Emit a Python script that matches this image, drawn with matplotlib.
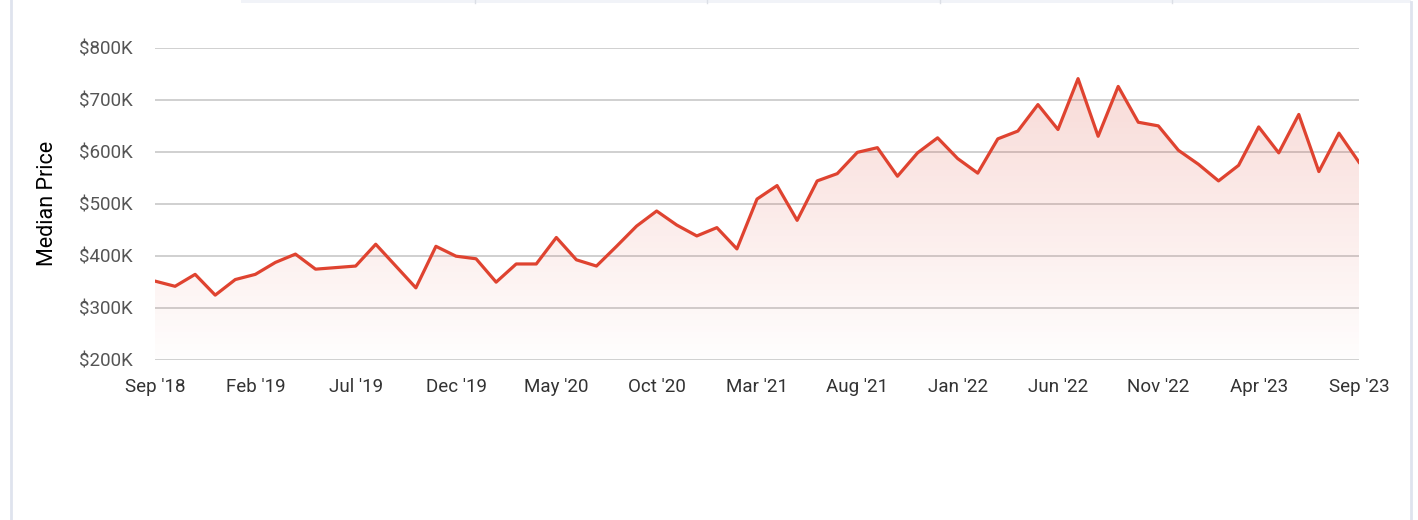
import numpy as np
import matplotlib
matplotlib.use('Agg')
import matplotlib.pyplot as plt
from matplotlib.lines import Line2D
from matplotlib.patches import Rectangle

# monthly median price, Sep 2018 .. Sep 2023 (in $K)
prices = [351, 341, 364, 324, 354, 364, 387, 403, 374, 377,
          380, 422, 380, 338, 418, 399, 394, 349, 384, 384,
          435, 392, 380, 418, 457, 486, 459, 438, 454, 413,
          509, 535, 468, 544, 558, 599, 608, 553, 598, 627,
          587, 559, 625, 640, 691, 643, 741, 630, 726, 657,
          650, 603, 576, 544, 574, 648, 598, 672, 562, 636,
          580]
tick_labels = ["Sep '18", "Feb '19", "Jul '19", "Dec '19", "May '20", "Oct '20",
               "Mar '21", "Aug '21", "Jan '22", "Jun '22", "Nov '22", "Apr '23", "Sep '23"]
y_ticks = [200, 300, 400, 500, 600, 700, 800]

plt.rcParams['font.family'] = ['Roboto', 'DejaVu Sans']

W, H = 1418, 520
fig = plt.figure(figsize=(W / 100, H / 100), dpi=100)
ax = fig.add_axes([155 / W, 1 - 359.5 / H, (1359 - 155) / W, (359.5 - 48) / H])

x = np.arange(len(prices))
y = np.array(prices)
line_col = '#df4330'

# gradient fill under the line
grad = np.zeros((256, 1, 4))
grad[:, 0, 0] = 0.87
grad[:, 0, 1] = 0.26
grad[:, 0, 2] = 0.19
grad[:, 0, 3] = np.linspace(0.2, 0.01, 256)
img = ax.imshow(grad, extent=[0, len(prices) - 1, 200, 760], origin='upper',
                aspect='auto', zorder=1)
poly = ax.fill_between(x, y, 200, color='none', lw=0)
img.set_clip_path(poly.get_paths()[0], transform=ax.transData)

ax.plot(x, y, color=line_col, lw=2.3, zorder=3)

ax.set_xlim(0, len(prices) - 1)
ax.set_ylim(200, 800)
ax.set_yticks(y_ticks)
ax.set_yticklabels(['$%dK' % v for v in y_ticks])
ax.set_xticks(np.arange(0, len(prices), 5))
ax.set_xticklabels(tick_labels)
ax.grid(axis='y', color='#c8c8c8', lw=1.2, zorder=0)
ax.set_axisbelow(True)
for s in ax.spines.values():
    s.set_visible(False)
ax.tick_params(axis='both', length=0)
ax.tick_params(axis='y', pad=16, labelsize=13.5, labelcolor='#555555')
ax.tick_params(axis='x', pad=13, labelsize=13.5, labelcolor='#333333')
ax.set_ylabel('Median Price', fontsize=15.5, color='#000000')
ax.yaxis.set_label_coords(-(155 - 58) / (1359 - 155), 0.5)

# card borders
fig.add_artist(Line2D([10.5 / W, 10.5 / W], [0, 1], color='#dfe3ee', lw=2))
fig.add_artist(Line2D([1411 / W, 1411 / W], [0, 1 - 2 / H], color='#dfe3ee', lw=2))
fig.add_artist(Rectangle((241 / W, 1 - 3 / H), (1411 - 241) / W, 3 / H,
                         facecolor='#f1f3f8', edgecolor='none'))
for xd in [475, 707, 940, 1172]:
    fig.add_artist(Line2D([xd / W, xd / W], [1 - 3 / H, 1], color='#dcdfe6', lw=1))

fig.savefig('out.png', dpi=100)
